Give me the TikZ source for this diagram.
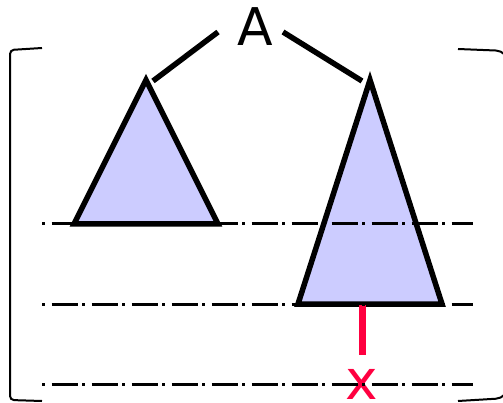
\documentclass[tikz,border=0pt]{standalone}
\usepackage{fontspec}
\setmainfont{DejaVu Sans}
\usetikzlibrary{positioning}
\definecolor{arvore}{RGB}{204,204,255}
\definecolor{marca}{RGB}{255,0,64}
\tikzset{
    sub/.style      = {draw=black, fill=arvore, line width=5.5pt},
    ramo/.style     = {line width=5.5pt, black},
    nivel/.style    = {line width=3pt, dash pattern=on 2.5pt off 7pt on 26pt off 4.5pt},
    colchete/.style = {line width=2pt},
    falha/.style    = {line width=7pt, marca},
}

\begin{document}
\begin{tikzpicture}[x=1pt, y=-1pt]
        \useasboundingbox (0,0) rectangle (503,403);
        % raiz e ramos
        \node[font=\fontsize{52}{52}\selectfont, inner sep=0pt, anchor=base] (A) at (255,46) {A};
        \coordinate (lapex) at (146,80);
        \coordinate (rapex) at (370,80);
        \coordinate (lramo) at (218,32);
        \coordinate (rramo) at (283,32);
        \draw[ramo] (lramo) -- ([shift={(7,1)}]lapex);
        \draw[ramo] (rramo) -- ([shift={(-8,1)}]rapex);
        % subarvores
        \draw[sub] (lapex) -- (218,224) -- (74,224) -- cycle;
        \draw[sub] (rapex) -- (442,304) -- (298,304) -- cycle;
        % colchetes
        \draw[colchete, rounded corners=4pt] (42,48) -- (10,50) -- (10,400) -- (42,401);
        \draw[colchete, rounded corners=12pt] (458,49) -- (508,51) -- (508,398) -- (458,401);
        % no x
        \coordinate (rbase) at (362,304);
        \node[font=\fontsize{55}{55}\selectfont, text=marca, inner sep=0pt, anchor=base] (x) at (362,399) {x};
        \draw[falha, shorten <=1pt, shorten >=14pt] (rbase) -- (x.north);
        % niveis
        \foreach \y in {224,304,384}
            \draw[nivel] (42,\y) -- (473,\y);
\end{tikzpicture}
\end{document}
